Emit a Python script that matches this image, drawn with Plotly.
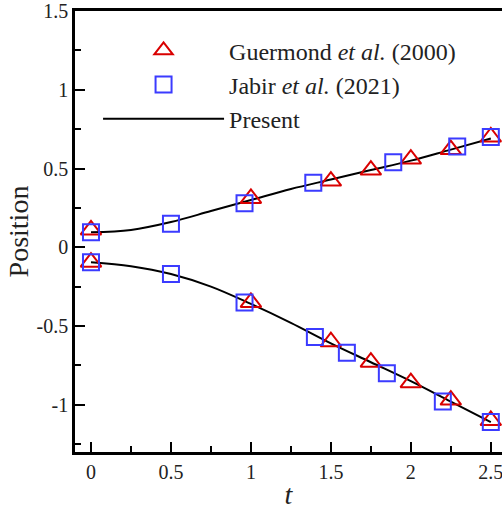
import plotly.graph_objects as go

# Guermond et al. (2000) - triangles
g_t_up = [0.0, 1.0, 1.5, 1.75, 2.0, 2.25, 2.5]
g_y_up = [0.11, 0.31, 0.42, 0.49, 0.56, 0.62, 0.70]
g_t_lo = [0.0, 1.0, 1.5, 1.75, 2.0, 2.25, 2.5]
g_y_lo = [-0.095, -0.35, -0.60, -0.73, -0.86, -0.97, -1.10]

# Jabir et al. (2021) - squares
j_t_up = [0.0, 0.5, 0.96, 1.39, 1.89, 2.29, 2.5]
j_y_up = [0.095, 0.15, 0.28, 0.41, 0.54, 0.64, 0.70]
j_t_lo = [0.0, 0.5, 0.96, 1.40, 1.60, 1.85, 2.20, 2.5]
j_y_lo = [-0.095, -0.17, -0.35, -0.57, -0.67, -0.80, -0.98, -1.11]

# Present - lines
p_t = [0.0, 0.25, 0.5, 0.75, 1.0, 1.25, 1.5, 1.75, 2.0, 2.25, 2.5]
p_y_up = [0.095, 0.11, 0.16, 0.23, 0.30, 0.37, 0.43, 0.49, 0.55, 0.62, 0.69]
p_y_lo = [-0.095, -0.12, -0.17, -0.25, -0.36, -0.48, -0.61, -0.73, -0.85, -0.98, -1.11]

x_ticks = [0, 0.5, 1, 1.5, 2, 2.5]
y_ticks = [-1, -0.5, 0, 0.5, 1, 1.5]

RED = "#d90000"
BLUE = "#3b3bff"
FONT = "Liberation Serif, Times New Roman, serif"

fig = go.Figure()

fig.add_trace(go.Scatter(x=p_t, y=p_y_up, mode="lines", line=dict(color="black", width=2, shape="spline"),
                         name="Present", legendrank=3, showlegend=True))
fig.add_trace(go.Scatter(x=p_t, y=p_y_lo, mode="lines", line=dict(color="black", width=2, shape="spline"),
                         showlegend=False))
fig.add_trace(go.Scatter(x=g_t_up, y=g_y_up, mode="markers",
                         marker=dict(symbol="triangle-up-open", size=18, color=RED, line=dict(width=2, color=RED)),
                         name="Guermond <i>et al.</i> (2000)", legendrank=1))
fig.add_trace(go.Scatter(x=g_t_lo, y=g_y_lo, mode="markers",
                         marker=dict(symbol="triangle-up-open", size=18, color=RED, line=dict(width=2, color=RED)),
                         showlegend=False))
fig.add_trace(go.Scatter(x=j_t_up, y=j_y_up, mode="markers",
                         marker=dict(symbol="square-open", size=16, color=BLUE, line=dict(width=2, color=BLUE)),
                         name="Jabir <i>et al.</i> (2021)", legendrank=2))
fig.add_trace(go.Scatter(x=j_t_lo, y=j_y_lo, mode="markers",
                         marker=dict(symbol="square-open", size=16, color=BLUE, line=dict(width=2, color=BLUE)),
                         showlegend=False))

fig.update_layout(
    width=502, height=510,
    margin=dict(l=75, r=0, t=11, b=58),
    plot_bgcolor="white", paper_bgcolor="white",
    font=dict(family=FONT, size=20, color="#222"),
    legend=dict(x=0.054, y=0.961, xanchor="left", yanchor="top", bgcolor="rgba(0,0,0,0)",
                itemwidth=121, font=dict(family=FONT, size=24, color="#222"), tracegroupgap=0),
    xaxis=dict(range=[-0.1, 2.57], tickvals=x_ticks, ticktext=[str(v) for v in x_ticks],
               ticks="inside", ticklen=10, tickwidth=2, tickcolor="black",
               showline=True, linewidth=2.5, linecolor="black", mirror=True,
               showgrid=False, zeroline=False, ticklabeloverflow="allow",
               tickfont=dict(family=FONT, size=20, color="#222"),
               minor=dict(dtick=0.25, tick0=0, ticks="inside", ticklen=6, tickwidth=1.5, tickcolor="black"),
               title=dict(text="<i>t</i>", font=dict(family=FONT, size=28, color="#222"), standoff=4)),
    yaxis=dict(range=[-1.3, 1.5], tickvals=y_ticks, ticktext=[str(v) for v in y_ticks],
               ticks="inside", ticklen=10, tickwidth=2, tickcolor="black",
               showline=True, linewidth=2.5, linecolor="black",
               showgrid=False, zeroline=False, ticklabeloverflow="allow",
               tickfont=dict(family=FONT, size=20, color="#222"),
               minor=dict(dtick=0.25, tick0=0, ticks="inside", ticklen=6, tickwidth=1.5, tickcolor="black"),
               title=dict(text="Position", font=dict(family=FONT, size=28, color="#222"), standoff=0)),
)

fig.write_html("out.html")
